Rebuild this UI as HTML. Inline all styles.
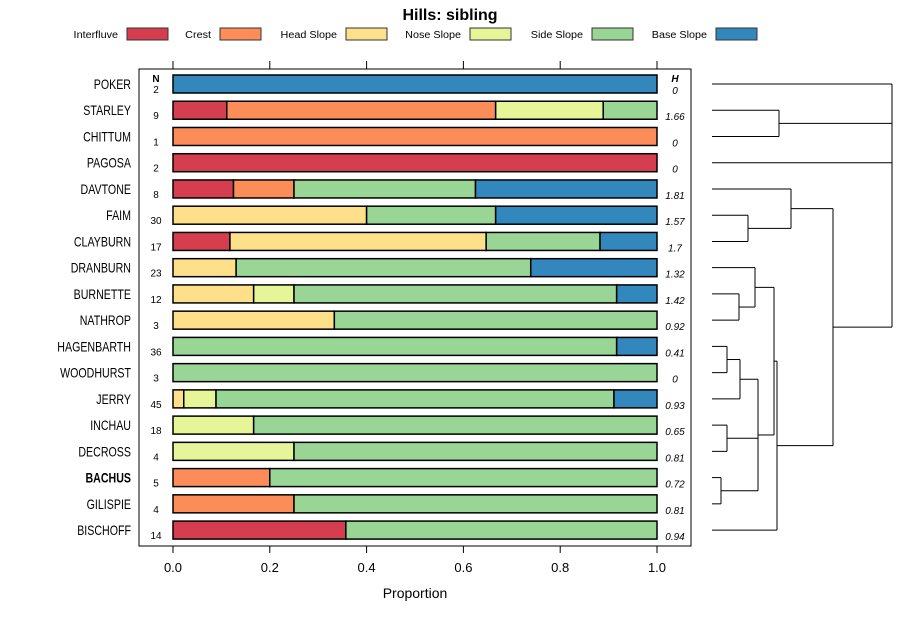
<!DOCTYPE html>
<html><head><meta charset="utf-8"><style>
body{margin:0;background:#fff;}
svg{display:block;font-family:"Liberation Sans",sans-serif;}
</style></head><body>
<svg id="chart" width="900" height="620">
<text x="450" y="20" text-anchor="middle" font-size="16" font-weight="bold">Hills: sibling</text>
<g id="legend"></g>
<rect x="139" y="69" width="552" height="477" fill="none" stroke="#000" stroke-width="1"/>
<g id="bars"></g>
<g id="axes"></g>
<g id="dendro" stroke="#000" stroke-width="1" fill="none"></g>
<text x="415" y="598" text-anchor="middle" font-size="14">Proportion</text>
</svg>
<script>
const categories = ["Interfluve","Crest","Head Slope","Nose Slope","Side Slope","Base Slope"];
const colors = ["#D53E4F","#FC8D59","#FEE08B","#E6F598","#99D594","#3288BD"];
const series = ["POKER","STARLEY","CHITTUM","PAGOSA","DAVTONE","FAIM","CLAYBURN","DRANBURN","BURNETTE","NATHROP","HAGENBARTH","WOODHURST","JERRY","INCHAU","DECROSS","BACHUS","GILISPIE","BISCHOFF"];
const counts = [
 [0,0,0,0,0,2],[1,5,0,2,1,0],[0,1,0,0,0,0],[2,0,0,0,0,0],[1,1,0,0,3,3],
 [0,0,12,0,8,10],[2,0,9,0,4,2],[0,0,3,0,14,6],[0,0,2,1,8,1],[0,0,1,0,2,0],
 [0,0,0,0,33,3],[0,0,0,0,3,0],[0,0,1,3,37,4],[0,0,0,3,15,0],[0,0,0,1,3,0],
 [0,1,0,0,4,0],[0,1,0,0,3,0],[5,0,0,0,9,0]];
const nValues = [2,9,1,2,8,30,17,23,12,3,36,3,45,18,4,5,4,14];
const hValues = ["0","1.66","0","0","1.81","1.57","1.7","1.32","1.42","0.92","0.41","0","0.93","0.65","0.81","0.72","0.81","0.94"];
const xTicks = [0,0.2,0.4,0.6,0.8,1.0];
const xTickLabels = ["0.0","0.2","0.4","0.6","0.8","1.0"];
const highlight = "BACHUS";
const merges = [
 [1,2,779],[5,6,748],[4,"c1",791],[8,9,739],[7,"c3",755],[10,11,727],["c5",12,740],
 [13,14,727],[15,16,721],["c6","c7","c8",758],["c4","c9",774],["c10",17,777],
 ["c2","c11",833],[0,"c0",3,"c12",892]];

const NS="http://www.w3.org/2000/svg";
function el(t,a,p){const e=document.createElementNS(NS,t);for(const k in a)e.setAttribute(k,a[k]);p.appendChild(e);return e;}
const x0=173,x1=657;
const xs=v=>x0+(x1-x0)*v;
const ys=i=>84+i*26.24;
const bars=document.getElementById('bars'), axes=document.getElementById('axes'), leg=document.getElementById('legend'), den=document.getElementById('dendro');

const legX=[127,220,346,470,592,716];
categories.forEach((c,i)=>{
  const t=el('text',{x:legX[i]-9,y:38,'text-anchor':'end','font-size':10},leg);t.textContent=c;
  
  
  const w=t.getComputedTextLength();
  t.setAttribute('textLength',w*1.08);
  t.setAttribute('lengthAdjust','spacingAndGlyphs');
  const r=el('rect',{x:legX[i],y:28,width:41,height:12,fill:colors[i],stroke:'#333'},leg);
  
  
});

let t=el('text',{x:156,y:82,'text-anchor':'middle','font-size':10,'font-weight':'bold'},bars);t.textContent='N';


t=el('text',{x:675,y:82,'text-anchor':'middle','font-size':10,'font-weight':'bold','font-style':'italic'},bars);t.textContent='H';



series.forEach((s,i)=>{
  const y=ys(i);
  const lab=el('text',{x:131,y:y+5,'text-anchor':'end','font-size':14},bars);lab.textContent=s;
  if(s===highlight)lab.setAttribute('font-weight','bold');
  
  
  const w=lab.getComputedTextLength();
  lab.setAttribute('textLength',w*0.76);
  lab.setAttribute('lengthAdjust','spacingAndGlyphs');
  const row=counts[i];const tot=row.reduce((a,b)=>a+b,0);
  let cum=0;
  row.forEach((v,k)=>{
    if(!v)return;
    const r=el('rect',{x:xs(cum/tot),y:y-9,width:xs((cum+v)/tot)-xs(cum/tot),height:18,fill:colors[k],stroke:'#000','stroke-width':1.5},bars);
    
    
    cum+=v;
  });
  const n=el('text',{x:156,y:y+9,'text-anchor':'middle','font-size':10},bars);n.textContent=nValues[i];
  
  
  const h=el('text',{x:675,y:y+10,'text-anchor':'middle','font-size':10,'font-style':'italic'},bars);h.textContent=hValues[i];
  
  
});

xTicks.forEach((v,i)=>{
  const x=xs(v);
  el('line',{x1:x,x2:x,y1:546,y2:553,stroke:'#000'},axes);
  el('line',{x1:x,x2:x,y1:61,y2:69,stroke:'#000'},axes);
  const l=el('text',{x:x,y:572,'text-anchor':'middle','font-size':13},axes);l.textContent=xTickLabels[i];
  
  
});

const dx=712;const clusters=[];
function pos(n){return typeof n==='number'?{x:dx,y:ys(n)}:clusters[+n.slice(1)];}
merges.forEach(m=>{
  const h=m[m.length-1];const ch=m.slice(0,-1).map(pos);
  ch.forEach(c=>el('line',{x1:c.x,x2:h,y1:c.y,y2:c.y},den));
  const ymin=Math.min(...ch.map(c=>c.y)),ymax=Math.max(...ch.map(c=>c.y));
  el('line',{x1:h,x2:h,y1:ymin,y2:ymax},den);
  clusters.push({x:h,y:(ymin+ymax)/2});
});
</script>
</body></html>
